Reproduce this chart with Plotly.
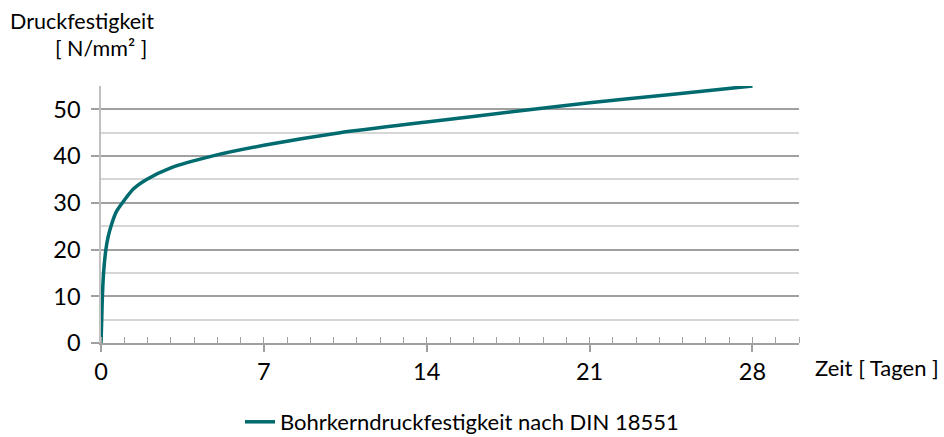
import plotly.graph_objects as go

# Data
days = [0, 0.03, 0.06, 0.11, 0.21, 0.31, 0.43, 0.65, 0.92, 1.4, 1.96, 3.0, 4.77, 7.0, 10.27, 14.0, 18.4, 21.0, 24.5, 28.0]
strength = [0, 5, 10, 15, 20, 22.8, 25, 28, 30, 33, 35, 37.5, 40, 42.3, 45, 47.3, 49.9, 51.4, 53.2, 55]
x_ticks = [0, 7, 14, 21, 28]
y_ticks = [0, 10, 20, 30, 40, 50]
series_name = "Bohrkerndruckfestigkeit nach DIN 18551"

FONT = "Lato"
TEAL = "#006B6F"

fig = go.Figure()
fig.add_trace(go.Scatter(
    x=days, y=strength, mode="lines", name=series_name,
    line=dict(color=TEAL, width=3.5, shape="spline", smoothing=0.6),
    showlegend=True,
))

fig.update_layout(
    width=944, height=437,
    margin=dict(l=101, r=145, t=86, b=94, autoexpand=False),
    paper_bgcolor="white", plot_bgcolor="white",
    font=dict(family=FONT, color="#000000", size=21.5),
    showlegend=True,
    legend=dict(orientation="h", x=0.5 + 12 / 698, xanchor="center", xref="paper",
                y=1 - 422 / 437, yanchor="middle", yref="container",
                font=dict(family=FONT, size=22), bgcolor="rgba(0,0,0,0)"),
    xaxis=dict(
        range=[0, 30], tickmode="array", tickvals=x_ticks, ticktext=[str(v) for v in x_ticks],
        showgrid=False, zeroline=False, showline=True, linecolor="#A0A0A0", linewidth=2,
        ticks="outside", ticklen=7, tickwidth=1.5, tickcolor="#A0A0A0", automargin=False,
        tickfont=dict(family=FONT, size=23.5),
        minor=dict(dtick=1, tick0=0, ticks="inside", ticklen=6, tickwidth=1, tickcolor="#A0A0A0", showgrid=False),
    ),
    yaxis=dict(
        range=[0, 55], tickmode="array", tickvals=y_ticks, ticktext=[str(v) for v in y_ticks],
        showgrid=True, gridcolor="#A0A0A0", gridwidth=1.5, automargin=False,
        zeroline=False, showline=True, linecolor="#C0C0C0", linewidth=1.5,
        ticks="outside", ticklen=8, tickwidth=1.5, tickcolor="#A0A0A0",
        tickfont=dict(family=FONT, size=23.5), ticklabelstandoff=6,
        minor=dict(tickmode="array", tickvals=[5, 15, 25, 35, 45, 55], showgrid=True,
                   gridcolor="#D6D6D6", gridwidth=1.5, ticks=""),
    ),
    annotations=[
        dict(text="Druckfestigkeit", xref="paper", yref="paper", x=-101/698, y=1+86/257,
             xanchor="left", yanchor="top", xshift=8, yshift=-6, showarrow=False,
             font=dict(family=FONT, size=21.5)),
        dict(text="[ N/mm² ]", xref="paper", yref="paper", x=-101/698, y=1+86/257,
             xanchor="left", yanchor="top", xshift=53, yshift=-33, showarrow=False,
             font=dict(family=FONT, size=21.5)),
        dict(text="Zeit [ Tagen ]", xref="paper", yref="paper", x=1, y=0,
             xanchor="left", yanchor="middle", xshift=14, yshift=-24, showarrow=False,
             font=dict(family=FONT, size=22)),
    ],
)

fig.write_html("out.html", config={"displayModeBar": False},
               post_script="document.body.style.margin='0';document.body.style.padding='0';")
